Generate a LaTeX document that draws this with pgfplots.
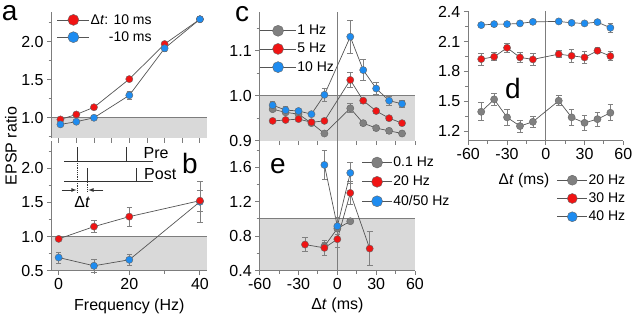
\documentclass[border=0pt]{standalone}
\usepackage{pgfplots}
\pgfplotsset{compat=1.18}
\usepackage{fontspec}
\setmainfont{Liberation Sans}
\definecolor{myred}{RGB}{240,20,20}
\definecolor{myblue}{RGB}{30,140,240}
\definecolor{mygray}{RGB}{128,128,128}
\definecolor{axgray}{RGB}{125,125,125}
\definecolor{bandgray}{RGB}{217,217,217}
\definecolor{linegray}{RGB}{85,85,85}
\pgfplotsset{
 panel/.style={
  scale only axis, axis lines=left, axis on top,
  axis line style={axgray, line width=1pt, -},
  every tick/.style={axgray, line width=0.9pt},
  tick align=outside, major tick length=4.5pt, minor tick length=3pt,
  tick label style={font=\fontsize{16}{18}\selectfont, text=black},
  /pgf/number format/assume math mode=true,
  yticklabel style={/pgf/number format/.cd, fixed, fixed zerofill, precision=1},
  xticklabel style={/pgf/number format/.cd, fixed, precision=0},
  clip=false,
  legend cell align=left,
  legend style={draw=none, fill=none, inner sep=0pt, outer sep=0pt,
    font=\fontsize{14}{16}\selectfont, row sep=5pt, nodes={inner sep=1pt}},
  label style={font=\fontsize{16}{18}\selectfont},
 },
 ser/.style={color=linegray, line width=0.7pt, mark=*, mark size=3.6pt,
   mark options={draw=black!60, line width=0.4pt, fill=#1},
   error bars/y dir=both, error bars/y explicit,
   error bars/error bar style={mygray, line width=0.7pt},
   error bars/error mark options={mygray, rotate=90, mark size=2.8pt, line width=0.7pt}},
 limg/.style 2 args={legend image code/.code={\draw[mark repeat=2,mark phase=2,##1] plot coordinates {(0pt,0pt) (#1,0pt) (#2,0pt)};},
   legend image post style={mark size=5.5pt}},
}
\begin{document}
\begin{tikzpicture}
\useasboundingbox (0pt,0pt) rectangle (640pt,317pt);

% ---------- panel a ----------
\begin{axis}[panel, at={(51.6pt,178.7pt)}, anchor=south west, width=155.4pt, height=126.3pt,
  xmin=-2, xmax=42, ymin=0.73, ymax=2.39,
  xtick={0,5,...,40}, xticklabels={}, x axis line style={draw=none},
  ytick={1,1.5,2}, minor ytick={0.75,1.25,1.75,2.25},
  legend style={at={(0.035,0.99)}, anchor=north west, row sep=4pt}, limg={16pt}{32pt}]
\fill[bandgray] (axis cs:-2,0.73) rectangle (axis cs:42,1);
\draw[axgray, line width=0.9pt] (axis cs:-2,1) -- (axis cs:42,1);
\addplot[ser=myred] coordinates {(0.5,0.978) +- (0,0.015) (5,1.043) +- (0,0.015) (10,1.138) +- (0,0.015) (20,1.508) +- (0,0.03) (30,1.969) +- (0,0.02) (40,2.295) +- (0,0.015)};
\addlegendentry{Δ\textit{t}: 10 ms}
\addplot[ser=myblue] coordinates {(0.5,0.913) +- (0,0.015) (5,0.948) +- (0,0.015) (10,1.0) +- (0,0.015) (20,1.295) +- (0,0.055) (30,1.913) +- (0,0.035) (40,2.295) +- (0,0.015)};
\addlegendentry{\phantom{Δ\textit{t}: }\llap{-}10 ms}
\end{axis}

% ---------- panel b ----------
\begin{axis}[panel, at={(51.6pt,46.3pt)}, anchor=south west, width=155.4pt, height=129.7pt,
  xmin=-2, xmax=42, ymin=0.5, ymax=2.4,
  xtick={0,20,40}, minor xtick={10,30},
  ytick={0.5,1,1.5,2}, minor ytick={0.75,1.25,1.75,2.25},
  xlabel={Frequency (Hz)}, xlabel style={at={(axis description cs:0.5,-0.275)}, anchor=center}]
\fill[bandgray] (axis cs:-2,0.5) rectangle (axis cs:42,1);
\draw[axgray, line width=0.9pt] (axis cs:-2,1) -- (axis cs:42,1);
\addplot[ser=myblue] coordinates {(0,0.693) +- (0,0.078) (10,0.572) +- (0,0.097) (20,0.66) +- (0,0.085) (40,1.51) +- (0,0.30)};
\addplot[ser=myred] coordinates {(0,0.966) +- (0,0.02) (10,1.146) +- (0,0.09) (20,1.292) +- (0,0.14) (40,1.526) +- (0,0.15)};
\end{axis}

% ---------- panel c ----------
\begin{axis}[panel, at={(259.7pt,176.3pt)}, anchor=south west, width=155.3pt, height=128.7pt,
  xmin=-60, xmax=60, ymin=0.9, ymax=1.186,
  xtick={-60,-45,...,60}, xticklabels={}, x axis line style={draw=none},
  ytick={0.9,1.0,1.1}, minor ytick={0.95,1.05,1.15},
  legend style={at={(0.0,0.905)}, anchor=north west}, limg={18pt}{36pt}]
\fill[bandgray] (axis cs:-60,0.9) rectangle (axis cs:60,1);
\draw[axgray, line width=0.9pt] (axis cs:-60,1) -- (axis cs:60,1);
\draw[axgray, line width=1.1pt] (axis cs:0,0.9) -- (axis cs:0,1.186);
\addplot[ser=mygray] coordinates {(-50,0.970) +- (0,0.004) (-40,0.963) +- (0,0.004) (-30,0.959) +- (0,0.004) (-20,0.939) +- (0,0.004) (-10,0.916) +- (0,0.004) (10,0.972) +- (0,0.01) (20,0.939) +- (0,0.004) (30,0.928) +- (0,0.004) (40,0.922) +- (0,0.006) (50,0.916) +- (0,0.004)};
\addlegendentry{1 Hz}
\addplot[ser=myred] coordinates {(-50,0.944) +- (0,0.006) (-40,0.946) +- (0,0.006) (-30,0.948) +- (0,0.006) (-20,0.941) +- (0,0.006) (-10,0.944) +- (0,0.005) (10,1.035) +- (0,0.017) (20,0.989) +- (0,0.006) (30,0.966) +- (0,0.005) (40,0.950) +- (0,0.004) (50,0.939) +- (0,0.005)};
\addlegendentry{5 Hz}
\addplot[ser=myblue] coordinates {(-50,0.979) +- (0,0.008) (-40,0.968) +- (0,0.008) (-30,0.966) +- (0,0.005) (-20,0.959) +- (0,0.004) (-10,1.002) +- (0,0.014) (10,1.131) +- (0,0.037) (20,1.057) +- (0,0.023) (30,1.016) +- (0,0.013) (40,0.989) +- (0,0.01) (50,0.982) +- (0,0.008)};
\addlegendentry{10 Hz}
\end{axis}

% ---------- panel e ----------
\begin{axis}[panel, at={(259.7pt,46.5pt)}, anchor=south west, width=155.3pt, height=129.5pt,
  xmin=-60, xmax=60, ymin=0.4, ymax=1.906,
  xtick={-60,-30,0,30,60}, minor xtick={-45,-15,15,45},
  ytick={0.4,0.8,1.2,1.6}, minor ytick={0.6,1.0,1.4,1.8},
  xlabel={Δ\textit{t} (ms)}, xlabel style={at={(axis description cs:0.5,-0.273)}, anchor=center},
  legend style={at={(0.657,0.885)}, anchor=north west, row sep=6pt}, limg={15pt}{30pt}]
\fill[bandgray] (axis cs:-60,0.4) rectangle (axis cs:60,1);
\draw[axgray, line width=0.9pt] (axis cs:-60,1) -- (axis cs:60,1);
\draw[axgray, line width=1.1pt] (axis cs:0,0.4) -- (axis cs:0,1.906);
\addplot[ser=mygray] coordinates {(-10,0.682) +- (0,0.05) (0,0.888) +- (0,0.12) (10,0.973) +- (0,0.02)};
\addlegendentry{0.1 Hz}
\addplot[ser=myred] coordinates {(-25,0.702) +- (0,0.083) (-10,0.663) +- (0,0.09) (0,0.764) +- (0,0.10) (10,1.302) +- (0,0.135) (25,0.655) +- (0,0.20)};
\addlegendentry{20 Hz}
\addplot[ser=myblue] coordinates {(-10,1.628) +- (0,0.17) (0,0.915) +- (0,0.10) (10,1.535) +- (0,0.126)};
\addlegendentry{40/50 Hz}
\end{axis}

% ---------- panel d ----------
\begin{axis}[panel, at={(468.3pt,176.5pt)}, anchor=south west, width=155pt, height=129.7pt,
  xmin=-60, xmax=60, ymin=1.105, ymax=2.41,
  xtick={-60,-30,0,30,60}, minor xtick={-45,-15,15,45},
  ytick={1.2,1.5,1.8,2.1,2.4}, minor ytick={1.35,1.65,1.95,2.25},
  legend style={at={(0.572,-0.255)}, anchor=north west}, limg={15pt}{30pt},
  legend image post style={mark size=5pt}]
\draw[axgray, line width=1.1pt] (axis cs:0,1.105) -- (axis cs:0,2.41);
\addplot[ser=mygray] coordinates {(-50,1.394) +- (0,0.09) (-40,1.519) +- (0,0.065) (-30,1.338) +- (0,0.08) (-20,1.250) +- (0,0.06) (-10,1.293) +- (0,0.06) (10,1.505) +- (0,0.05) (20,1.338) +- (0,0.08) (30,1.283) +- (0,0.08) (40,1.320) +- (0,0.07) (50,1.384) +- (0,0.08)};
\addlegendentry{20 Hz}
\addplot[ser=myred] coordinates {(-50,1.924) +- (0,0.06) (-40,1.947) +- (0,0.04) (-30,2.038) +- (0,0.045) (-20,1.941) +- (0,0.05) (-10,1.921) +- (0,0.06) (10,1.974) +- (0,0.035) (20,1.957) +- (0,0.065) (30,1.941) +- (0,0.06) (40,2.008) +- (0,0.03) (50,1.954) +- (0,0.045)};
\addlegendentry{30 Hz}
\addplot[ser=myblue] coordinates {(-50,2.266) +- (0,0.015) (-40,2.276) +- (0,0.02) (-30,2.276) +- (0,0.015) (-20,2.283) +- (0,0.015) (-10,2.299) +- (0,0.015) (10,2.303) +- (0,0.015) (20,2.289) +- (0,0.025) (30,2.283) +- (0,0.02) (40,2.296) +- (0,0.02) (50,2.239) +- (0,0.045)};
\addlegendentry{40 Hz}
\node[font=\fontsize{15.5}{17}\selectfont] at (rel axis cs:0.359,-0.305) {Δ\textit{t} (ms)};
\end{axis}

% ---------- y label ----------
\node[rotate=90, font=\fontsize{16}{18}\selectfont] at (11pt,171pt) {EPSP ratio};

% ---------- stimulus diagram ----------
\begin{scope}[line width=0.8pt, black!80]
\draw (64pt,155.8pt) -- (153pt,155.8pt);
\draw (77.3pt,155.8pt) -- (77.3pt,170.3pt);
\draw (126pt,155.8pt) -- (126pt,170.3pt);
\draw (64pt,135.3pt) -- (153pt,135.3pt);
\draw (87.3pt,135.3pt) -- (87.3pt,148.7pt);
\draw (136.7pt,135.3pt) -- (136.7pt,148.7pt);
\draw[densely dotted] (77.3pt,155.8pt) -- (77.3pt,125pt);
\draw[densely dotted] (87.3pt,135.3pt) -- (87.3pt,125pt);
\draw[-latex] (61.7pt,127pt) -- (76.5pt,127pt);
\draw[-latex] (103.3pt,127pt) -- (88.3pt,127pt);
\end{scope}
\node[font=\fontsize{16}{18}\selectfont, anchor=base west, inner sep=0pt] at (143.5pt,158.7pt) {Pre};
\node[font=\fontsize{16}{18}\selectfont, anchor=base west, inner sep=0pt] at (144pt,137.7pt) {Post};
\node[font=\fontsize{16}{18}\selectfont] at (82.3pt,115.3pt) {Δ\textit{t}};

% ---------- panel letters ----------
\begin{scope}[every node/.style={font=\fontsize{28}{30}\selectfont, anchor=base west, inner sep=0pt}]
\node at (1.7pt,296.3pt) {a};
\node at (182pt,143.7pt) {b};
\node at (235pt,296pt) {c};
\node at (505pt,218.7pt) {d};
\node at (270pt,143.7pt) {e};
\end{scope}
\end{tikzpicture}
\end{document}
